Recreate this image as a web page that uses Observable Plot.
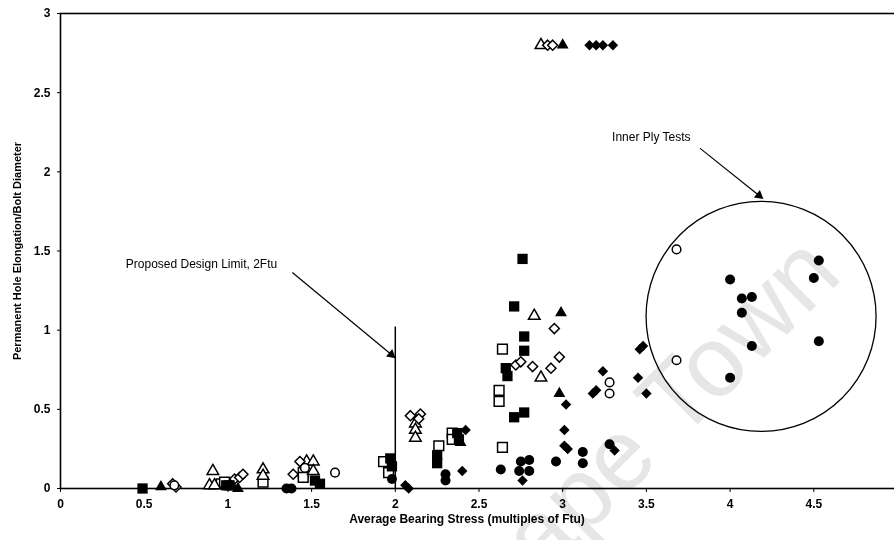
<!DOCTYPE html>
<html>
<head>
<meta charset="utf-8">
<script src="https://cdn.jsdelivr.net/npm/d3@7"></script>
<script src="https://cdn.jsdelivr.net/npm/@observablehq/plot@0.6"></script>
<style>
  body { margin: 0; background: #fff; }
  #chart { width: 894px; height: 540px; overflow: hidden; }
</style>
</head>
<body>
<div id="chart"></div>
<script>
// ---- Data (x = average bearing stress / Ftu, y = permanent hole elongation / bolt diameter)
const filledSquares = [
  [0.49, 0.00], [0.99, 0.02], [1.01, 0.02], [1.52, 0.05], [1.55, 0.03],
  [1.97, 0.19], [1.98, 0.14], [2.25, 0.21], [2.25, 0.16], [2.37, 0.35], [2.38, 0.31],
  [2.76, 1.45], [2.71, 1.15], [2.77, 0.96], [2.77, 0.87], [2.66, 0.76], [2.67, 0.71],
  [2.71, 0.45], [2.77, 0.48]
];
const openSquares = [
  [0.96, 0.03], [0.98, 0.04], [1.21, 0.04], [1.45, 0.10], [1.45, 0.07],
  [1.93, 0.17], [1.96, 0.10], [2.26, 0.27], [2.34, 0.35], [2.34, 0.31],
  [2.64, 0.88], [2.62, 0.62], [2.62, 0.55], [2.64, 0.26]
];
const filledTriangles = [
  [0.60, 0.01], [1.03, 0.01], [1.06, 0.00], [2.39, 0.29],
  [2.99, 1.11], [2.98, 0.60], [3.00, 2.80]
];
const openTriangles = [
  [0.91, 0.11], [0.89, 0.02], [0.92, 0.02], [1.21, 0.12], [1.21, 0.08],
  [1.47, 0.17], [1.51, 0.17], [1.51, 0.11], [2.12, 0.41], [2.12, 0.37], [2.12, 0.32],
  [2.83, 1.09], [2.87, 0.70], [2.87, 2.80]
];
const filledDiamonds = [
  [2.06, 0.02], [2.08, 0.00], [2.40, 0.11], [2.42, 0.37], [2.76, 0.05],
  [3.02, 0.53], [3.01, 0.37], [3.01, 0.27], [3.03, 0.25], [3.18, 0.60], [3.20, 0.62],
  [3.24, 0.74], [3.31, 0.24], [3.46, 0.88], [3.48, 0.90], [3.45, 0.70], [3.50, 0.60],
  [3.16, 2.80], [3.20, 2.80], [3.24, 2.80], [3.30, 2.80]
];
const openDiamonds = [
  [0.67, 0.03], [0.69, 0.01], [1.04, 0.06], [1.07, 0.07], [1.09, 0.09],
  [1.43, 0.17], [1.39, 0.09], [2.09, 0.46], [2.15, 0.47], [2.14, 0.44],
  [2.72, 0.78], [2.75, 0.80], [2.82, 0.77], [2.93, 0.76], [2.98, 0.83], [2.95, 1.01],
  [2.91, 2.80], [2.94, 2.80]
];
const filledCircles = [
  [1.35, 0.00], [1.38, 0.00], [1.98, 0.06], [2.30, 0.09], [2.30, 0.05], [2.63, 0.12],
  [2.75, 0.17], [2.80, 0.18], [2.74, 0.11], [2.80, 0.11], [2.96, 0.17],
  [3.12, 0.23], [3.12, 0.16], [3.28, 0.28],
  [4.00, 1.32], [4.07, 1.20], [4.13, 1.21], [4.07, 1.11], [4.13, 0.90], [4.00, 0.70],
  [4.53, 1.44], [4.50, 1.33], [4.53, 0.93]
];
const openCircles = [
  [0.68, 0.02], [1.46, 0.13], [1.64, 0.10], [3.28, 0.67], [3.28, 0.60],
  [3.68, 1.51], [3.68, 0.81]
];

// ---- Axes
const xTicks = [0, 0.5, 1, 1.5, 2, 2.5, 3, 3.5, 4, 4.5, 5];
const yTicks = [0, 0.5, 1, 1.5, 2, 2.5, 3];
const xTitle = "Average Bearing Stress (multiples of Ftu)";
const yTitle = "Permanent Hole Elongation/Bolt Diameter";

// ---- Annotations
const designLimit = [{x: 2, y1: 0, y2: 1.02}];
const annotationTexts = [
  {x: 0.39, y: 1.42, text: "Proposed Design Limit, 2Ftu"},
  {x: 3.295, y: 2.217, text: "Inner Ply Tests"}
];
const arrows = [
  {x1: 1.385, y1: 1.364, x2: 1.976, y2: 0.846, angle: 130},
  {x1: 3.821, y1: 2.148, x2: 4.173, y2: 1.851, angle: 128.5}
];
const innerPlyCircle = [{x: 4.185, y: 1.087}];
const watermark = [{x: 3.63, y: 0.22, text: "Cape Town"}];

const font = "'Liberation Sans', Arial, Helvetica, sans-serif";
const X = d => d[0], Y = d => d[1];

const plot = Plot.plot({
  width: 894,
  height: 540,
  marginLeft: 60,
  marginRight: -3,
  marginTop: 13,
  marginBottom: 52,
  style: {fontFamily: font, fontSize: "12px", fontWeight: "bold", background: "white", color: "black"},
  x: {domain: [0, 5], ticks: xTicks, tickFormat: d => String(d), tickSize: 4, tickPadding: 7, label: null},
  y: {domain: [0, 3], ticks: yTicks, tickFormat: d => String(d), tickSize: 3, tickPadding: 7, label: null},
  marks: [
    Plot.text(watermark, {x: "x", y: "y", text: "text", rotate: -45, fontSize: 100, fontWeight: "normal",
      fill: "#e6e6e6", textAnchor: "middle", lineAnchor: "bottom", mixBlendMode: "multiply"}),
    Plot.frame({stroke: "black", strokeWidth: 1.6}),
    Plot.ruleX(designLimit, {x: "x", y1: "y1", y2: "y2", stroke: "black", strokeWidth: 1.5}),
    Plot.dot(innerPlyCircle, {x: "x", y: "y", r: 115, fill: "none", stroke: "black", strokeWidth: 1.3}),
    Plot.link(arrows, {x1: "x1", y1: "y1", x2: "x2", y2: "y2", stroke: "black", strokeWidth: 1.2}),
    Plot.dot(arrows, {x: "x2", y: "y2", symbol: "triangle", r: 3.6, rotate: "angle", fill: "black", stroke: "none"}),
    Plot.text(annotationTexts, {x: "x", y: "y", text: "text", textAnchor: "start", fontWeight: "normal", fontSize: 12, fill: "black"}),
    // data series
    Plot.dot(openSquares, {x: X, y: Y, symbol: "square", r: 5.5, fill: "white", stroke: "black", strokeWidth: 1.5}),
    Plot.dot(openTriangles, {x: X, y: Y, symbol: "triangle", r: 4.3, fill: "white", stroke: "black", strokeWidth: 1.5}),
    Plot.dot(openDiamonds, {x: X, y: Y, symbol: "diamond2", r: 4.5, fill: "white", stroke: "black", strokeWidth: 1.5}),
    Plot.dot(openCircles, {x: X, y: Y, symbol: "circle", r: 4.3, fill: "white", stroke: "black", strokeWidth: 1.5}),
    Plot.dot(filledSquares, {x: X, y: Y, symbol: "square", r: 5.8, fill: "black", stroke: "none"}),
    Plot.dot(filledTriangles, {x: X, y: Y, symbol: "triangle", r: 4.4, fill: "black", stroke: "none"}),
    Plot.dot(filledDiamonds, {x: X, y: Y, symbol: "diamond2", r: 4.7, fill: "black", stroke: "none"}),
    Plot.dot(filledCircles, {x: X, y: Y, symbol: "circle", r: 5, fill: "black", stroke: "none"}),
    // axis titles
    Plot.text([xTitle], {frameAnchor: "bottom", text: d => d, dx: -12, dy: 34, fontSize: 12, fontWeight: "bold", textAnchor: "middle"}),
    Plot.text([yTitle], {frameAnchor: "left", text: d => d, dx: -43, rotate: -90, fontSize: 11, fontWeight: "bold", textAnchor: "middle"})
  ]
});
document.getElementById("chart").appendChild(plot);
</script>
</body>
</html>
